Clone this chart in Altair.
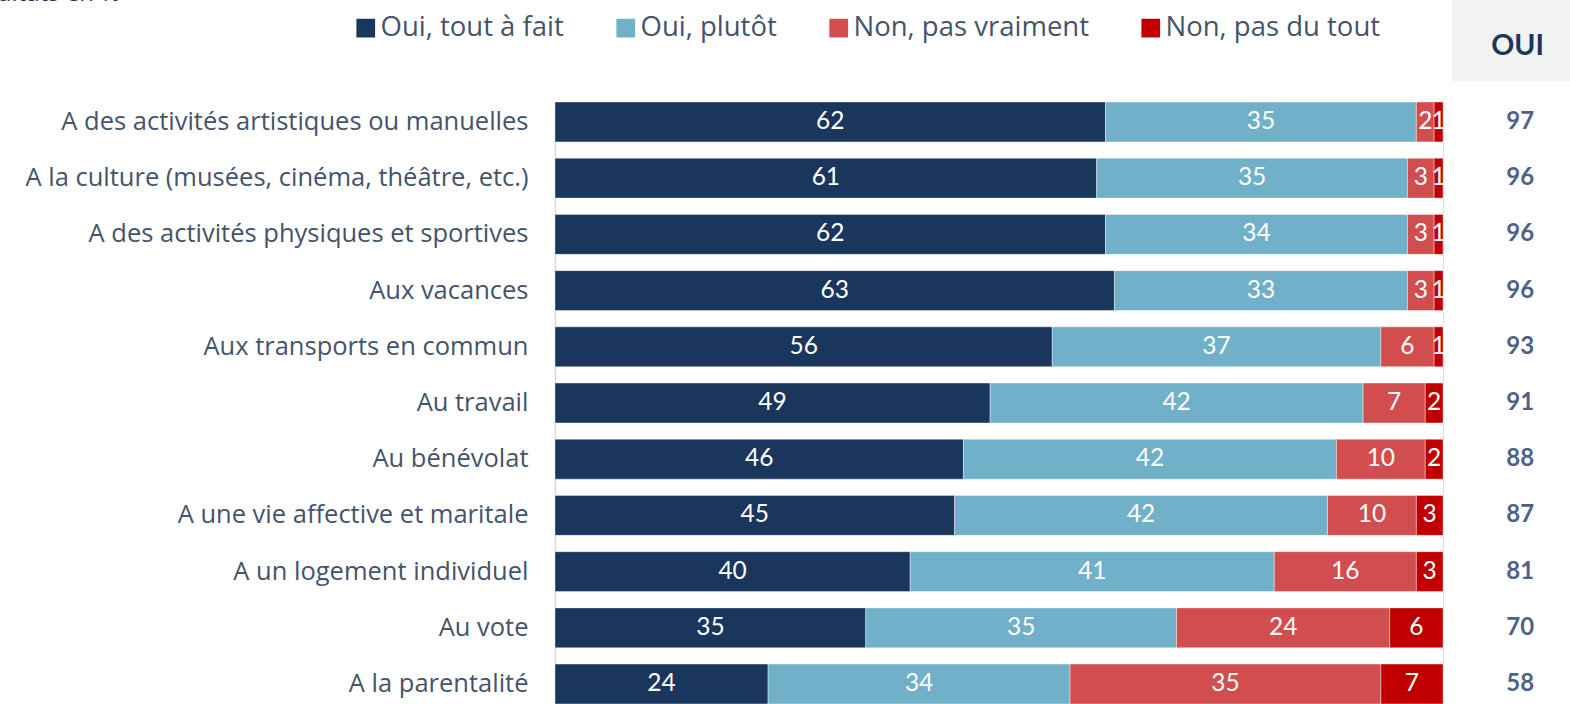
import altair as alt
import pandas as pd

categories = [
    "A des activités artistiques ou manuelles",
    "A la culture (musées, cinéma, théâtre, etc.)",
    "A des activités physiques et sportives",
    "Aux vacances",
    "Aux transports en commun",
    "Au travail ",
    "Au bénévolat",
    "A une vie affective et maritale",
    "A un logement individuel",
    "Au vote",
    "A la parentalité",
]
series = ["Oui, tout à fait", "Oui, plutôt", "Non, pas vraiment", "Non, pas du tout"]
tout_a_fait = [62, 61, 62, 63, 56, 49, 46, 45, 40, 35, 24]
plutot = [35, 35, 34, 33, 37, 42, 42, 42, 41, 35, 34]
pas_vraiment = [2, 3, 3, 3, 6, 7, 10, 10, 16, 24, 35]
pas_du_tout = [1, 1, 1, 1, 1, 2, 2, 3, 3, 6, 7]
oui_total = [97, 96, 96, 96, 93, 91, 88, 87, 81, 70, 58]
colors = ["#1B365D", "#70B0C8", "#D24D4E", "#C00000"]

rows = []
for i, c in enumerate(categories):
    for j, (s, vals) in enumerate(zip(series, [tout_a_fait, plutot, pas_vraiment, pas_du_tout])):
        rows.append({"cat": c, "serie": s, "ord": j, "value": vals[i]})
df = pd.DataFrame(rows)
tot = pd.DataFrame({"cat": categories, "oui": oui_total})

FONT = "Lato"
TFONT = "Open Sans"
ycat = alt.Y("cat:N", sort=categories, title=None,
             scale=alt.Scale(paddingInner=0.29, paddingOuter=0),
             axis=alt.Axis(labelFontSize=25.5, labelColor="#44546A", labelPadding=27,
                           labelLimit=0, ticks=False, domainColor="#D9D9D9",
                           domainWidth=1.5, labelFont=TFONT))

base = alt.Chart(df).transform_stack(
    stack="value", as_=["x0", "x1"], groupby=["cat"], sort=[{"field": "ord", "order": "ascending"}]
)

bars = base.mark_bar(stroke="#ffffff", strokeWidth=0.8, strokeOpacity=0.5).encode(
    y=ycat,
    x=alt.X("x0:Q", scale=alt.Scale(domain=[0, 100], nice=False), axis=None),
    x2="x1:Q",
    color=alt.Color("serie:N", sort=series,
                    scale=alt.Scale(domain=series, range=colors),
                    legend=alt.Legend(title=None, orient="none", direction="horizontal",
                                      legendX=-203, legendY=-88, symbolType="square",
                                      symbolSize=350, symbolStrokeWidth=0, labelFontSize=27.5,
                                      labelColor="#44546A", labelFont=TFONT, columnPadding=48,
                                      labelOffset=1, symbolOffset=0, labelLimit=0)),
)

labels = base.transform_calculate(mid="(datum.x0 + datum.x1) / 2").mark_text(
    color="white", fontSize=24.5, font=FONT
).encode(
    y=alt.Y("cat:N", sort=categories),
    x=alt.X("mid:Q"),
    text=alt.Text("value:Q"),
)

header_box = alt.Chart(pd.DataFrame({"a": [0]})).mark_rect(color="#F2F2F2").encode(
    x=alt.datum(101.0), x2=alt.datum(114.5), y=alt.value(-102), y2=alt.value(-21)
)
header_txt = alt.Chart(pd.DataFrame({"t": ["OUI"]})).mark_text(
    fontSize=28.5, fontWeight="bold", color="#1B365D", font=FONT
).encode(x=alt.datum(108.4), y=alt.value(-56), text="t:N")

totals = alt.Chart(tot).mark_text(
    fontSize=24, fontWeight="bold", color="#4E6285", font=FONT
).encode(
    y=alt.Y("cat:N", sort=categories),
    x=alt.datum(108.7),
    text="oui:Q",
)

top_txt = alt.Chart(pd.DataFrame({"t": ["Résultats en %"]})).mark_text(
    fontSize=24, color="#1B365D", align="right", baseline="alphabetic", font=TFONT
).encode(x=alt.value(-435), y=alt.value(-101), text="t:N")

chart = alt.layer(bars, labels, header_box, header_txt, totals, top_txt).properties(
    width=888, height=602,
    autosize=alt.AutoSizeParams(type="none"),
    padding={"left": 555, "top": 102, "right": 127, "bottom": 0},
).configure_view(stroke=None).configure(background="white")

chart.save("out.html", embed_options={"renderer": "svg", "actions": False})
